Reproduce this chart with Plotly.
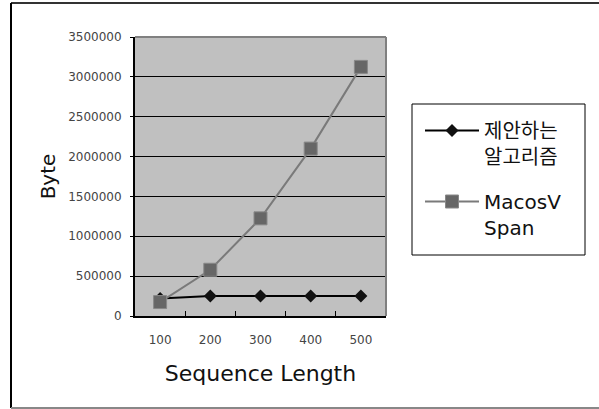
import plotly.graph_objects as go

categories = ["100", "200", "300", "400", "500"]
proposed = [220000, 250000, 250000, 250000, 250000]
macosvspan = [175000, 580000, 1225000, 2100000, 3125000]
series_names = ["제안하는<br>알고리즘", "MacosV<br>Span"]

W, H = 599, 409
L, R, T, B = 135, 386, 37, 316

FONT = "DejaVu Sans, Noto Sans CJK KR, sans-serif"

fig = go.Figure()
fig.add_trace(go.Scatter(
    x=categories, y=proposed, name=series_names[0], mode="lines+markers",
    legendgroup="a",
    line=dict(color="#000000", width=2),
    marker=dict(symbol="diamond", size=10, color="#111111"),
))
fig.add_trace(go.Scatter(
    x=categories, y=macosvspan, name=series_names[1], mode="lines+markers",
    legendgroup="b",
    line=dict(color="#7a7a7a", width=2),
    marker=dict(symbol="square", size=13, color="#666666", line=dict(color="#888888", width=1)),
))

def px_x(p):
    return (p - L) / (R - L)

def px_y(p):
    return (B - p) / (B - T)

fig.update_layout(
    width=W, height=H,
    margin=dict(l=L, r=W - R, t=T, b=H - B),
    paper_bgcolor="white",
    plot_bgcolor="#C0C0C0",
    font=dict(family=FONT, color="#000"),
    showlegend=True,
    legend=dict(
        x=px_x(420), y=px_y(111), xanchor="left", yanchor="top",
        bgcolor="rgba(0,0,0,0)", borderwidth=0,
        font=dict(size=20, family=FONT, color="#111"),
        itemwidth=54, tracegroupgap=16, valign="top",
    ),
    xaxis=dict(
        type="category", range=[-0.5, 4.5],
        showgrid=False, showline=True, linecolor="#000", linewidth=2,
        ticks="inside", ticklen=5, tickcolor="#000", tickson="boundaries",
        tickfont=dict(size=12, color="#444", family=FONT),
        ticklabelstandoff=12,
        title=dict(text="Sequence Length", font=dict(size=22, family=FONT, color="#111"), standoff=19),
        zeroline=False,
    ),
    yaxis=dict(
        range=[0, 3500000], dtick=500000, tickformat="d",
        showgrid=True, gridcolor="#000", gridwidth=1,
        showline=True, linecolor="#000", linewidth=2,
        ticks="outside", ticklen=3, tickcolor="#000",
        tickfont=dict(size=12, color="#444", family=FONT),
        ticklabelstandoff=6,
        title=dict(text="Byte", font=dict(size=20, family=FONT, color="#111"), standoff=7),
        zeroline=False,
    ),
    shapes=[
        dict(type="line", xref="paper", yref="paper", x0=0, x1=1, y0=1, y1=1,
             line=dict(color="#808080", width=2)),
        dict(type="line", xref="paper", yref="paper", x0=1, x1=1, y0=0, y1=1,
             line=dict(color="#808080", width=2)),
        dict(type="rect", xref="paper", yref="paper", x0=px_x(412), x1=px_x(585), y0=px_y(104), y1=px_y(255),
             line=dict(color="#000", width=1), fillcolor="rgba(0,0,0,0)", layer="below"),
        dict(type="line", xref="paper", yref="paper", x0=px_x(11), x1=px_x(605), y0=px_y(3), y1=px_y(3),
             line=dict(color="#333", width=2)),
        dict(type="line", xref="paper", yref="paper", x0=px_x(11), x1=px_x(11), y0=px_y(3), y1=px_y(408),
             line=dict(color="#000", width=2)),
        dict(type="line", xref="paper", yref="paper", x0=px_x(11), x1=px_x(605), y0=px_y(408), y1=px_y(408),
             line=dict(color="#888", width=2)),
    ],
)

fig.write_html("out.html")
